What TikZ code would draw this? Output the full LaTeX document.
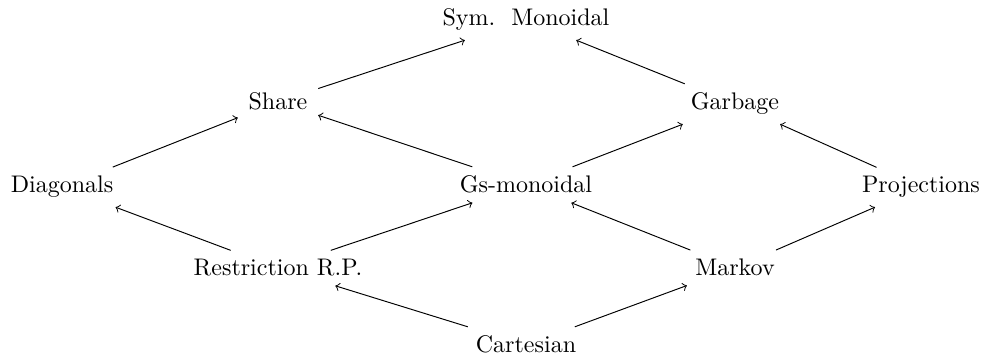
\documentclass[tikz,border=0pt]{standalone}
\usetikzlibrary{arrows}
\begin{document}
\begin{tikzpicture}[x=0.41667pt, y=-0.41667pt,
  cell/.style={anchor=base, inner xsep=1ex, inner ysep=0.85ex},
  arr/.style={->, >=to, line width=0.4pt}]
\useasboundingbox (0,0) rectangle (985,358);
\node[cell] (sym) at (526,26) {Sym.\ \ Monoidal};
\node[cell] (share) at (278,110) {Share};
\node[cell] (garb) at (735,110) {Garbage};
\node[cell] (diag) at (62,193) {Diagonals};
\node[cell] (gs) at (526,193) {Gs-monoidal};
\node[cell] (proj) at (921,193) {Projections};
\node[cell] (rest) at (278,276) {Restriction R.P.};
\node[cell] (mark) at (735,276) {Markov};
\node[cell] (cart) at (526,353) {Cartesian};
\draw[arr] (share) -- (sym);
\draw[arr] (garb) -- (sym);
\draw[arr] (diag) -- (share);
\draw[arr] (gs) -- (share);
\draw[arr] (gs) -- (garb);
\draw[arr] (proj) -- (garb);
\draw[arr] (rest) -- (diag);
\draw[arr] (rest) -- (gs);
\draw[arr] (mark) -- (gs);
\draw[arr] (mark) -- (proj);
\draw[arr] (cart) -- (rest);
\draw[arr] (cart) -- (mark);
\end{tikzpicture}
\end{document}
